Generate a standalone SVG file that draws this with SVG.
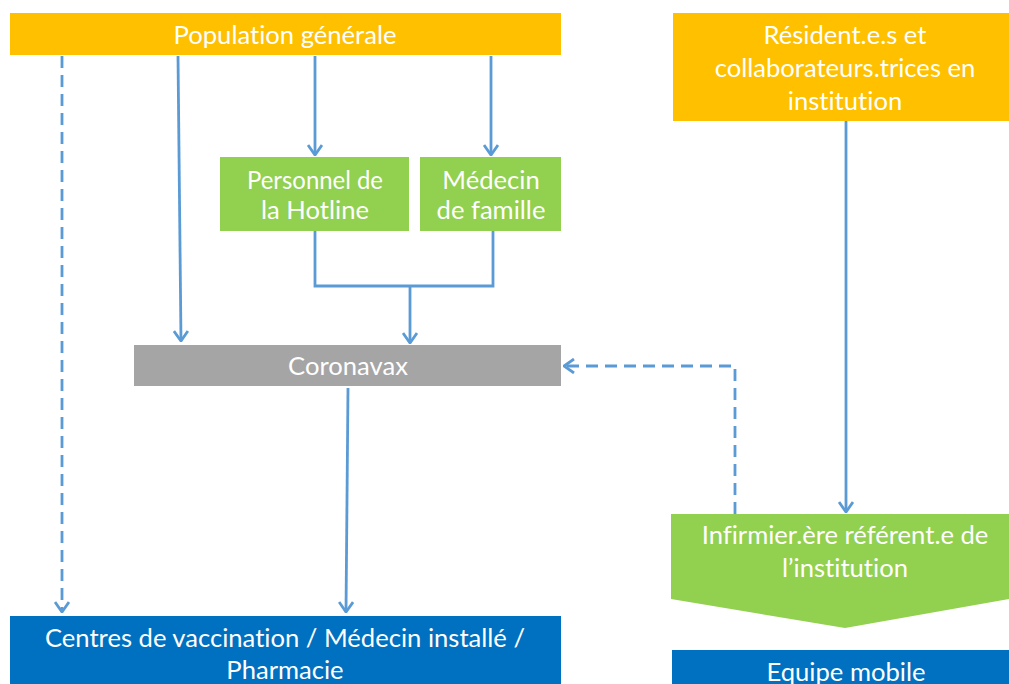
<svg xmlns="http://www.w3.org/2000/svg" width="1009" height="684" viewBox="0 0 1009 684">
<style>
.t{font-family:Lato,"Open Sans","Liberation Sans",sans-serif;font-size:25.6px;fill:#fff;text-anchor:middle;dominant-baseline:central;font-variant-ligatures:none;font-feature-settings:"liga" 0}
.c{fill:none;stroke:#5B9BD5;stroke-width:2.8}
.d{stroke-dasharray:12,7}
</style>
<defs>
<marker id="ah" viewBox="0 0 12 16" refX="11" refY="8" markerWidth="12" markerHeight="16" markerUnits="userSpaceOnUse" orient="auto">
<path d="M1,1 L11,8 L1,15" fill="none" stroke="#5B9BD5" stroke-width="2.8"/>
</marker>
</defs>
<rect width="1009" height="684" fill="#fff"/>
<g id="population">
<rect x="10" y="13" width="551" height="42" fill="#FFC000"/>
<text class="t" x="285" y="34">Population générale</text>
</g>
<g id="residents">
<rect x="673" y="13" width="336" height="108" fill="#FFC000"/>
<text class="t" x="845" y="34">Résident.e.s et</text>
<text class="t" x="845" y="67">collaborateurs.trices en</text>
<text class="t" x="845" y="100">institution</text>
</g>
<g id="hotline">
<rect x="220" y="157" width="189" height="74" fill="#92D050"/>
<text class="t" x="315" y="179" textLength="136" lengthAdjust="spacingAndGlyphs">Personnel de</text>
<text class="t" x="315" y="209">la Hotline</text>
</g>
<g id="medecin">
<rect x="420" y="157" width="141" height="74" fill="#92D050"/>
<text class="t" x="491" y="179">Médecin</text>
<text class="t" x="491" y="209">de famille</text>
</g>
<g id="coronavax">
<rect x="134" y="345" width="427" height="41" fill="#A5A5A5"/>
<text class="t" x="348" y="365">Coronavax</text>
</g>
<g id="centres">
<rect x="10" y="616" width="551" height="70" fill="#0070C0"/>
<text class="t" x="285" y="637">Centres de vaccination / Médecin installé /</text>
<text class="t" x="285" y="669">Pharmacie</text>
</g>
<g id="infirmier">
<path d="M671,514 L1009,514 L1009,599 L845,628 L671,599 Z" fill="#92D050"/>
<text class="t" x="845" y="534">Infirmier.ère référent.e de</text>
<text class="t" x="845" y="567">l’institution</text>
</g>
<g id="equipe">
<rect x="672" y="650" width="337" height="36" fill="#0070C0"/>
<text class="t" x="846" y="671">Equipe mobile</text>
</g>
<g id="connectors">
<path class="c d" d="M62,56 L62,612" marker-end="url(#ah)"/>
<path class="c" d="M178,56 L181,341" marker-end="url(#ah)"/>
<path class="c" d="M315,56 L315,155" marker-end="url(#ah)"/>
<path class="c" d="M491,56 L491,155" marker-end="url(#ah)"/>
<path class="c" d="M315,231 L315,286 L493,286 L493,231"/>
<path class="c" d="M410,286 L410,343" marker-end="url(#ah)"/>
<path class="c" d="M348,388 L346,612" marker-end="url(#ah)"/>
<path class="c" d="M846,121 L846,512" marker-end="url(#ah)"/>
<path class="c d" d="M735,514 L735,366 L564,366" marker-end="url(#ah)"/>
</g>
</svg>
